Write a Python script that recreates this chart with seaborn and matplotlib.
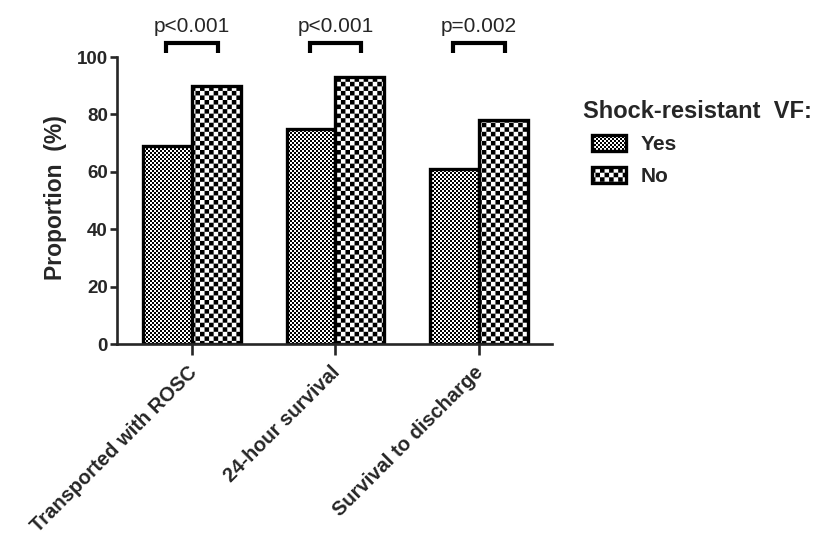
import warnings
import pandas as pd
import numpy as np
import matplotlib
matplotlib.use('Agg')
import matplotlib.pyplot as plt
import matplotlib.hatch as mhatch
import matplotlib.patches as mpatches
import matplotlib.transforms as mtrans
from matplotlib.path import Path
import seaborn as sns

warnings.filterwarnings('ignore')

outcomes = ['Transported with ROSC', '24-hour survival', 'Survival to discharge']
yes_vals = [69, 75, 61]
no_vals = [90, 93, 78]
p_labels = ['p<0.001', 'p<0.001', 'p=0.002']


# checkerboard hatch: 'f' = fine, 'c' = coarse
class CheckerHatch(mhatch.HatchPatternBase):
    def __init__(self, hatch, density):
        self.n = 0
        if 'c' in hatch:
            self.n = 22
        elif 'f' in hatch:
            self.n = 50
        self.num_vertices = 5 * (self.n * self.n // 2)

    def set_vertices_and_codes(self, vertices, codes):
        n = self.n
        k = 0
        for i in range(n):
            for j in range(n):
                if (i + j) % 2:
                    continue
                x0, y0, x1, y1 = i / n, j / n, (i + 1) / n, (j + 1) / n
                vertices[k:k + 5] = [(x0, y0), (x1, y0), (x1, y1), (x0, y1), (x0, y0)]
                codes[k:k + 5] = [Path.MOVETO, Path.LINETO, Path.LINETO, Path.LINETO, Path.CLOSEPOLY]
                k += 5


mhatch._hatch_types.append(CheckerHatch)

sns.set_style('ticks')
plt.rcParams['font.family'] = ['Liberation Sans', 'DejaVu Sans']
plt.rcParams['hatch.linewidth'] = 0.0
plt.rcParams['hatch.color'] = 'black'

df = pd.DataFrame({
    'Outcome': outcomes * 2,
    'Proportion': yes_vals + no_vals,
    'VF': ['Yes'] * 3 + ['No'] * 3,
})

fig = plt.figure(figsize=(8.14, 5.42), dpi=100)
ax = fig.add_axes([0.1437, 0.3653, 0.5344, 0.5295])

sns.barplot(data=df, x='Outcome', y='Proportion', hue='VF', hue_order=['Yes', 'No'],
            palette=['white', 'white'], width=0.68, gap=0, edgecolor='black',
            linewidth=2.4, legend=False, ax=ax)

hatches = ['fff', 'ccc']
for cont, h in zip(ax.containers, hatches):
    for bar in cont:
        bar.set_hatch(h)

ax.set_xlim(-0.523, 2.51)
ax.set_ylim(0, 100)
ax.set_yticks([0, 20, 40, 60, 80, 100])
sns.despine(ax=ax)
for s in ['left', 'bottom']:
    ax.spines[s].set_linewidth(1.9)
ax.tick_params(axis='y', length=5, width=1.9, labelsize=13.5, pad=1.5)
ax.tick_params(axis='x', length=8, width=1.9, labelsize=14.5, pad=2)
for lab in ax.get_yticklabels():
    lab.set_fontweight('bold')
ax.set_xticks(range(3))
ax.set_xticklabels(outcomes, rotation=45, ha='right', rotation_mode='anchor', fontweight='bold')
shift = mtrans.ScaledTranslation(-5 / 100, -5 / 100, fig.dpi_scale_trans)
for lab in ax.get_xticklabels():
    lab.set_transform(lab.get_transform() + shift)
ax.set_xlabel('')
ax.set_ylabel('Proportion  (%)', fontsize=16.5, fontweight='bold')
ax.yaxis.set_label_coords(-0.115, 0.51)

# significance brackets
for i, p in enumerate(p_labels):
    x0, x1 = i - 0.18, i + 0.18
    ax.plot([x0, x0, x1, x1], [101.4, 104.9, 104.9, 101.4], color='black', lw=3,
            clip_on=False, solid_capstyle='butt', solid_joinstyle='miter')
    ax.text(i, 110.5, p, ha='center', va='center', fontsize=15)

# legend
fig.text(583 / 814, (542 - 112) / 542, 'Shock-resistant  VF:', ha='left', va='center',
         fontsize=17, fontweight='bold')
handles = [mpatches.Patch(facecolor='white', edgecolor='black', hatch=h, linewidth=2.4)
           for h in hatches]
leg = fig.legend(handles, ['Yes', 'No'], loc='upper left',
                 bbox_to_anchor=(592 / 814, (542 - 135) / 542), frameon=False, fontsize=15,
                 borderaxespad=0, borderpad=0,
                 handlelength=1.65, handleheight=0.8, labelspacing=0.62, handletextpad=0.7)
for t in leg.get_texts():
    t.set_fontweight('bold')

fig.savefig('out.png', dpi=100)
